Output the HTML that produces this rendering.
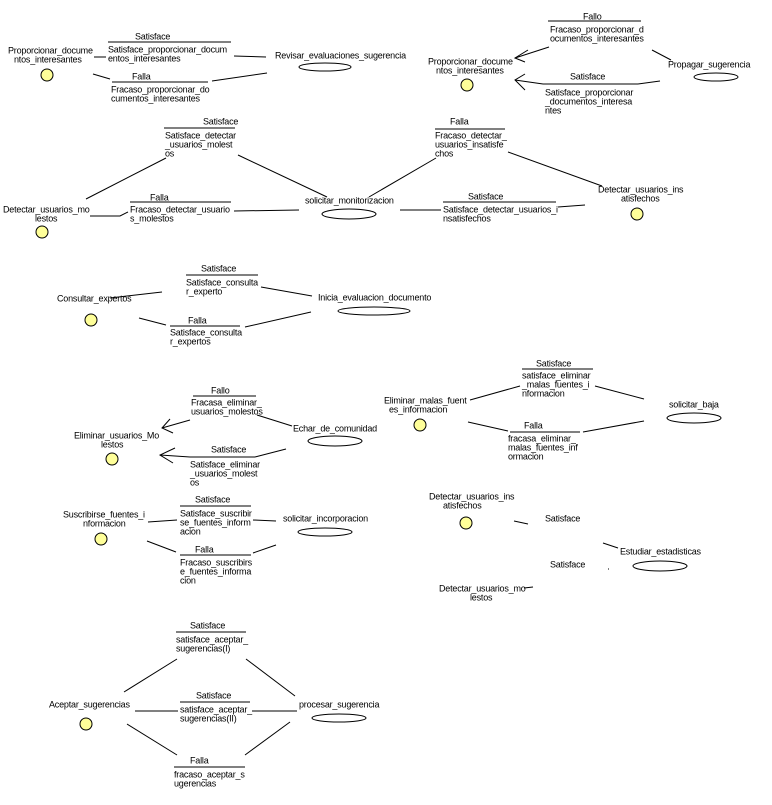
<!DOCTYPE html>
<html><head><meta charset="utf-8"><style>
html,body{margin:0;padding:0;background:#fff;}
svg{display:block;}
text{font-family:"Liberation Sans",sans-serif;font-size:9px;fill:#000;dominant-baseline:middle;letter-spacing:-0.2px;}
line,polyline{stroke:#000;stroke-width:1;fill:none;}
ellipse{stroke:#000;fill:#fff;}
circle{stroke:#000;fill:#ffff99;}
</style></head><body>
<svg width="772" height="805" viewBox="0 0 772 805" xmlns="http://www.w3.org/2000/svg">
<!-- Group 1 -->
<text x="8" y="51">Proporcionar_docume</text><text x="14" y="60">ntos_interesantes</text>
<circle cx="47" cy="75" r="6"/>
<text x="135" y="37">Satisface</text><line x1="108" y1="42" x2="231" y2="42"/>
<text x="108" y="50">Satisface_proporcionar_docum</text><text x="108" y="59">entos_interesantes</text>
<line x1="94" y1="57" x2="106" y2="57"/><line x1="234" y1="56" x2="266" y2="57"/>
<text x="275" y="56">Revisar_evaluaciones_sugerencia</text><ellipse cx="325" cy="67" rx="26" ry="4"/>
<text x="132" y="77">Falla</text><line x1="112" y1="82" x2="208" y2="82"/>
<line x1="93" y1="74" x2="110" y2="79"/><line x1="212" y1="81" x2="267" y2="73"/>
<text x="111" y="90">Fracaso_proporcionar_do</text><text x="111" y="99">cumentos_interesantes</text>
<!-- Group 2 -->
<text x="583" y="17">Fallo</text><line x1="548" y1="21" x2="641" y2="21"/>
<text x="550" y="30">Fracaso_proporcionar_d</text><text x="550" y="39">ocumentos_interesantes</text>
<line x1="549" y1="47" x2="515" y2="58"/><polyline points="528,50 515,58 525,62"/>
<text x="428" y="62">Proporcionar_docume</text><text x="436" y="71">ntos_interesantes</text>
<circle cx="467" cy="85" r="6"/>
<line x1="652" y1="50" x2="671" y2="60"/>
<text x="668" y="65">Propagar_sugerencia</text><ellipse cx="716" cy="77" rx="22" ry="4"/>
<text x="570" y="77">Satisface</text><line x1="543" y1="84" x2="638" y2="84"/>
<polyline points="515,80 543,84"/><line x1="638" y1="84" x2="660" y2="81"/>
<polyline points="525,74 515,80 525,90"/>
<text x="545" y="93">Satisface_proporcionar</text><text x="545" y="102">_documentos_interesa</text><text x="545" y="111">ntes</text>
<!-- Group 3 -->
<text x="203" y="122">Satisface</text><line x1="164" y1="128" x2="235" y2="128"/>
<text x="165" y="136">Satisface_detectar</text><text x="165" y="145">_usuarios_molest</text><text x="165" y="154">os</text>
<line x1="166" y1="158" x2="86" y2="199"/><line x1="238" y1="155" x2="327" y2="197"/>
<text x="3" y="210">Detectar_usuarios_mo</text><text x="35" y="219">lestos</text>
<circle cx="42" cy="232" r="6"/>
<text x="150" y="198">Falla</text><line x1="130" y1="202" x2="231" y2="202"/>
<text x="130" y="210">Fracaso_detectar_usuario</text><text x="130" y="219">s_molestos</text>
<polyline points="90,216 120,216 128,212"/><line x1="234" y1="211" x2="299" y2="210"/>
<text x="305" y="201">solicitar_monitorizacion</text><ellipse cx="349" cy="214" rx="27" ry="5"/>
<text x="450" y="122">Falla</text><line x1="435" y1="129" x2="505" y2="129"/>
<text x="435" y="136">Fracaso_detectar_</text><text x="435" y="145">usuarios_insatisfe</text><text x="435" y="154">chos</text>
<line x1="436" y1="158" x2="369" y2="197"/><line x1="508" y1="152" x2="602" y2="186"/>
<text x="468" y="197">Satisface</text><line x1="443" y1="202" x2="556" y2="202"/>
<text x="443" y="210">Satisface_detectar_usuarios_i</text><text x="443" y="219">nsatisfechos</text>
<line x1="400" y1="210" x2="441" y2="210"/><line x1="558" y1="207" x2="585" y2="205"/>
<text x="598" y="190">Detectar_usuarios_ins</text><text x="621" y="199">atisfechos</text>
<circle cx="637" cy="214" r="6"/>
<!-- Group 4 -->
<text x="201" y="269">Satisface</text><line x1="186" y1="275" x2="258" y2="275"/>
<text x="186" y="283">Satisface_consulta</text><text x="186" y="292">r_experto</text>
<text x="57" y="299">Consultar_expertos</text><circle cx="91" cy="320" r="6"/>
<line x1="110" y1="298" x2="162" y2="292"/><line x1="261" y1="287" x2="312" y2="296"/>
<text x="318" y="298">Inicia_evaluacion_documento</text><ellipse cx="374" cy="311" rx="36" ry="4"/>
<text x="188" y="321">Falla</text><line x1="170" y1="326" x2="240" y2="326"/>
<text x="170" y="333">Satisface_consulta</text><text x="170" y="342">r_expertos</text>
<line x1="139" y1="318" x2="166" y2="325"/><line x1="245" y1="327" x2="311" y2="312"/>
<!-- Group 5 -->
<text x="211" y="391">Fallo</text><line x1="193" y1="396" x2="256" y2="396"/>
<text x="191" y="403">Fracasa_eliminar_</text><text x="191" y="412">usuarios_molestos</text>
<line x1="190" y1="420" x2="162" y2="428"/><polyline points="170,419 162,428 173,433"/>
<text x="74" y="436">Eliminar_usuarios_Mo</text><text x="101" y="445">lestos</text>
<circle cx="112" cy="459" r="6"/>
<line x1="257" y1="415" x2="292" y2="426"/>
<text x="293" y="429">Echar_de_comunidad</text><ellipse cx="335" cy="441" rx="27" ry="5"/>
<text x="211" y="450">Satisface</text><line x1="190" y1="457" x2="255" y2="457"/>
<text x="190" y="465">Satisface_eliminar</text><text x="190" y="474">_usuarios_molest</text><text x="190" y="483">os</text>
<line x1="160" y1="455" x2="190" y2="457"/><line x1="255" y1="457" x2="286" y2="449"/>
<polyline points="175,448 160,455 173,463"/>
<!-- Group 6 -->
<text x="536" y="364">Satisface</text><line x1="522" y1="369" x2="593" y2="369"/>
<text x="522" y="376">satisface_eliminar</text><text x="522" y="385">_malas_fuentes_i</text><text x="522" y="394">nformacion</text>
<text x="384" y="401">Eliminar_malas_fuent</text><text x="389" y="410">es_informacion</text>
<circle cx="420" cy="425" r="6"/>
<line x1="470" y1="400" x2="520" y2="386"/><line x1="595" y1="386" x2="644" y2="399"/>
<text x="669" y="405">solicitar_baja</text><ellipse cx="694" cy="418" rx="27" ry="5"/>
<text x="524" y="426">Falla</text><line x1="510" y1="432" x2="580" y2="432"/>
<text x="508" y="439">fracasa_eliminar_</text><text x="508" y="448">malas_fuentes_inf</text><text x="508" y="457">ormacion</text>
<line x1="468" y1="422" x2="508" y2="431"/><line x1="583" y1="432" x2="644" y2="421"/>
<!-- Group 7 -->
<text x="195" y="500">Satisface</text><line x1="180" y1="506" x2="251" y2="506"/>
<text x="180" y="514">Satisface_suscribir</text><text x="180" y="523">se_fuentes_inform</text><text x="180" y="532">acion</text>
<text x="63" y="515">Suscribirse_fuentes_i</text><text x="83" y="524">nformacion</text>
<circle cx="101" cy="539" r="6"/>
<line x1="148" y1="522" x2="177" y2="520"/><line x1="253" y1="520" x2="276" y2="521"/>
<text x="283" y="519">solicitar_incorporacion</text><ellipse cx="325" cy="532" rx="27" ry="4"/>
<text x="195" y="550">Falla</text><line x1="180" y1="555" x2="251" y2="555"/>
<text x="180" y="563">Fracaso_suscribirs</text><text x="180" y="572">e_fuentes_informa</text><text x="180" y="581">cion</text>
<line x1="147" y1="541" x2="176" y2="552"/><line x1="253" y1="553" x2="276" y2="545"/>
<!-- Group 8 -->
<text x="429" y="497">Detectar_usuarios_ins</text><text x="443" y="506">atisfechos</text>
<circle cx="466" cy="523" r="6"/>
<line x1="514" y1="521" x2="528" y2="524"/>
<text x="545" y="519">Satisface</text>
<line x1="603" y1="543" x2="618" y2="548"/>
<text x="620" y="552">Estudiar_estadisticas</text><ellipse cx="660" cy="566" rx="27" ry="5"/>
<text x="550" y="565">Satisface</text><line x1="608" y1="569" x2="609" y2="569"/>
<text x="439" y="589">Detectar_usuarios_mo</text><line x1="524" y1="588" x2="533" y2="587"/><text x="470" y="598">lestos</text>
<!-- Group 9 -->
<text x="190" y="626">Satisface</text><line x1="176" y1="632" x2="246" y2="632"/>
<text x="176" y="640">satisface_aceptar_</text><text x="176" y="649">sugerencias(I)</text>
<text x="49" y="705">Aceptar_sugerencias</text><circle cx="86" cy="724" r="6"/>
<line x1="124" y1="692" x2="177" y2="659"/><line x1="246" y1="659" x2="295" y2="696"/>
<text x="196" y="696">Satisface</text><line x1="180" y1="702" x2="250" y2="702"/>
<text x="180" y="710">satisface_aceptar_</text><text x="180" y="719">sugerencias(II)</text>
<line x1="135" y1="711" x2="178" y2="711"/><line x1="252" y1="711" x2="297" y2="711"/>
<text x="299" y="705">procesar_sugerencia</text><ellipse cx="339" cy="718" rx="27" ry="4"/>
<text x="190" y="761">Falla</text><line x1="174" y1="767" x2="245" y2="767"/>
<text x="174" y="775">fracaso_aceptar_s</text><text x="174" y="784">ugerencias</text>
<line x1="127" y1="724" x2="177" y2="755"/><line x1="245" y1="755" x2="290" y2="722"/>
</svg>
</body></html>
